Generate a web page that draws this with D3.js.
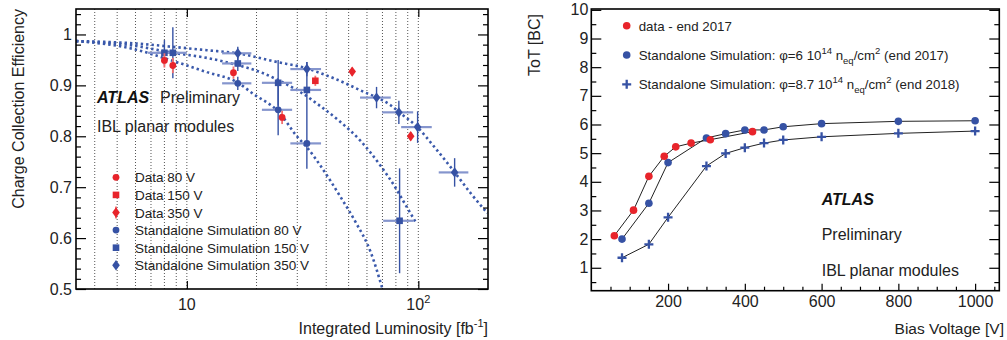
<!DOCTYPE html>
<html>
<head>
<meta charset="utf-8">
<script src="https://cdn.jsdelivr.net/npm/d3@7"></script>
<style>
  body { margin: 0; background: #fff; }
  svg { font-family: "Liberation Sans", Arial, Helvetica, sans-serif; }
</style>
</head>
<body>
<svg id="chart" width="1007" height="340"></svg>
<script>
// ---- left panel data: charge collection efficiency vs integrated luminosity ----
const lumiMajor = [10, 100];
const lumiGrid = [4, 5, 6, 7, 8, 9, 10, 20, 30, 40, 50, 60, 70, 80, 90, 100];
const cceMajor = [0.5, 0.6, 0.7, 0.8, 0.9, 1];

// [lumi, cce, cceErr]
const data80 = [[8.0, 0.949, 0.014], [8.7, 0.939, 0.015], [15.9, 0.925, 0.012], [25.8, 0.837, 0.013]];
const data150 = [[35.9, 0.909, 0.010]];
const data350 = [[51.8, 0.927, 0.008], [92.7, 0.800, 0.008]];

// [lumi, cce, lumiErr, cceErr]
const sim80 = [[16.6, 0.904, 2.4, 0.013], [24.8, 0.852, 3.7, 0.050], [33.0, 0.786, 5.0, 0.050]];
const sim150 = [[8.0, 0.964, 1.2, 0.025], [8.7, 0.964, 1.3, 0.050], [16.6, 0.943, 2.4, 0.015],
                [24.8, 0.905, 3.7, 0.045], [33.0, 0.891, 5.0, 0.055], [83, 0.634, 12.5, 0.103]];
const sim350 = [[16.6, 0.963, 2.4, 0.013], [33.0, 0.932, 5.0, 0.014], [66, 0.876, 10, 0.021],
                [82.4, 0.847, 12.6, 0.023], [99.3, 0.818, 15, 0.031], [143.5, 0.729, 21, 0.028]];

// model curves
const curve80Lumi = [3.32, 5.68, 8.99, 12.2, 16.5, 19.4, 24.9, 30.0, 33.2, 37.8, 46.1, 53.5, 62.2, 70.0];
const curve80Cce = [0.987, 0.973, 0.946, 0.926, 0.906, 0.883, 0.848, 0.799, 0.777, 0.742, 0.681, 0.632, 0.573, 0.500];
const curve150Lumi = [3.32, 5.68, 8.99, 12.2, 16.5, 20.8, 25.4, 30.9, 37.8, 46.1, 56.3, 68.7, 79.7, 88.1, 97.3];
const curve150Cce = [0.987, 0.979, 0.963, 0.954, 0.940, 0.926, 0.908, 0.887, 0.859, 0.828, 0.791, 0.742, 0.699, 0.665, 0.632];
const curve350Lumi = [3.32, 5.68, 8.99, 12.2, 16.5, 24.5, 33.1, 37.8, 43.1, 50.1, 58.2, 66.4, 75.9, 83.8, 99.0, 116.8, 142.6, 168.4, 198.9];
const curve350Cce = [0.987, 0.983, 0.975, 0.969, 0.963, 0.946, 0.933, 0.924, 0.914, 0.901, 0.887, 0.876, 0.861, 0.845, 0.818, 0.780, 0.731, 0.688, 0.649];

const legendLeft = ['Data 80 V', 'Data 150 V', 'Data 350 V',
  'Standalone Simulation 80 V', 'Standalone Simulation 150 V', 'Standalone Simulation 350 V'];

// ---- right panel data: ToT vs bias voltage ----
const voltTicks = [200, 400, 600, 800, 1000];
const totTicks = [1, 2, 3, 4, 5, 6, 7, 8, 9, 10];
const voltData = [60, 110, 150, 190, 220, 260, 310, 420];
const totData = [2.12, 3.01, 4.19, 4.89, 5.22, 5.35, 5.47, 5.75];
const voltSim17 = [80, 150, 200, 300, 350, 400, 450, 500, 600, 800, 1000];
const totSim17 = [2.00, 3.25, 4.67, 5.53, 5.68, 5.81, 5.81, 5.92, 6.03, 6.11, 6.13];
const voltSim18 = [80, 150, 200, 300, 350, 400, 450, 500, 600, 800, 1000];
const totSim18 = [1.35, 1.82, 2.76, 4.55, 4.99, 5.19, 5.35, 5.46, 5.57, 5.69, 5.77];

const RED = '#e8242b';
const RED_ERR = '#f07070';
const BLUE = '#3652a4';
const BLUE_LIGHT = '#8595cd';
const BLUE_CURVE = '#3a59ab';

const svg = d3.select('#chart');

const diamond = 'M0,-5.2L3.8,0L0,5.2L-3.8,0Z';

function drawMarker(sel, shape, color) {
  if (shape === 'circle') {
    sel.append('circle').attr('r', 3.4).attr('fill', color);
  } else if (shape === 'square') {
    sel.append('rect').attr('x', -3.3).attr('y', -3.3).attr('width', 6.6).attr('height', 6.6).attr('fill', color);
  } else if (shape === 'diamond') {
    sel.append('path').attr('d', diamond).attr('fill', color);
  } else if (shape === 'cross') {
    sel.append('path').attr('d', 'M-4.5,0H4.5M0,-4.5V4.5').attr('stroke', color).attr('stroke-width', 2.3);
  }
}

// =================== LEFT PANEL ===================
const L = {left: 76, right: 488, top: 9, bottom: 289};
const x1 = d3.scaleLog().domain([3.32, 200]).range([L.left, L.right]);
const y1 = d3.scaleLinear().domain([0.5, 1.05]).range([L.bottom, L.top]);
const g1 = svg.append('g');

g1.append('clipPath').attr('id', 'clip1').append('rect')
  .attr('x', L.left).attr('y', L.top).attr('width', L.right - L.left).attr('height', L.bottom - L.top);

// dotted grid
g1.selectAll('line.grid')
  .data(lumiGrid)
  .enter()
  .append('line')
  .attr('x1', d => x1(d)).attr('x2', d => x1(d))
  .attr('y1', L.top).attr('y2', L.bottom)
  .attr('stroke', '#555').attr('stroke-width', 1).attr('stroke-dasharray', '1,2');

// model curves
const line1 = d3.line().x(d => x1(d[0])).y(d => y1(d[1])).curve(d3.curveMonotoneX);
[[curve80Lumi, curve80Cce], [curve150Lumi, curve150Cce], [curve350Lumi, curve350Cce]].forEach(([ls, cs]) => {
  g1.append('path')
    .datum(d3.zip(ls, cs))
    .attr('d', line1)
    .attr('clip-path', 'url(#clip1)')
    .attr('fill', 'none')
    .attr('stroke', BLUE_CURVE)
    .attr('stroke-width', 2.6)
    .attr('stroke-dasharray', '2.4,3');
});

// simulation points with errors
[[sim80, 'circle'], [sim150, 'square'], [sim350, 'diamond']].forEach(([pts, shape]) => {
  g1.selectAll(null).data(pts).enter().append('line')
    .attr('x1', d => x1(d[0] - d[2])).attr('x2', d => x1(d[0] + d[2]))
    .attr('y1', d => y1(d[1])).attr('y2', d => y1(d[1]))
    .attr('stroke', BLUE_LIGHT).attr('stroke-width', 2.2);
  g1.selectAll(null).data(pts).enter().append('line')
    .attr('x1', d => x1(d[0])).attr('x2', d => x1(d[0]))
    .attr('y1', d => y1(d[1] - d[3])).attr('y2', d => y1(d[1] + d[3]))
    .attr('stroke', BLUE).attr('stroke-width', 1.4);
});
[[sim80, 'circle'], [sim150, 'square'], [sim350, 'diamond']].forEach(([pts, shape]) => {
  g1.selectAll(null).data(pts).enter().append('g')
    .attr('transform', d => `translate(${x1(d[0])},${y1(d[1])})`)
    .each(function () { drawMarker(d3.select(this), shape, BLUE); });
});

// data points
[[data80, 'circle'], [data150, 'square'], [data350, 'diamond']].forEach(([pts, shape]) => {
  g1.selectAll(null).data(pts).enter().append('line')
    .attr('x1', d => x1(d[0])).attr('x2', d => x1(d[0]))
    .attr('y1', d => y1(d[1] - d[2])).attr('y2', d => y1(d[1] + d[2]))
    .attr('stroke', RED_ERR).attr('stroke-width', 1.8);
  g1.selectAll(null).data(pts).enter().append('g')
    .attr('transform', d => `translate(${x1(d[0])},${y1(d[1])})`)
    .each(function () { drawMarker(d3.select(this), shape, RED); });
});

// axes (ticks pointing inward, ROOT style)
function styleAxis(a) {
  a.select('.domain').remove();
  a.selectAll('line').attr('stroke', '#000').attr('stroke-width', 1.2);
  a.selectAll('text').attr('fill', '#222').style('font-size', '16px')
    .style('font-family', '"Liberation Sans", Arial, sans-serif');
}
const cceMinor = d3.range(25, 53).map(i => +(i * 0.02).toFixed(2)).filter(v => !cceMajor.includes(v));

g1.append('g').attr('transform', `translate(${L.left},0)`)
  .call(d3.axisLeft(y1).tickValues(cceMajor).tickSize(-10).tickPadding(4)
    .tickFormat(d => d === 1 ? '1' : d3.format('.1f')(d)))
  .call(styleAxis);
g1.append('g').attr('transform', `translate(${L.left},0)`)
  .call(d3.axisLeft(y1).tickValues(cceMinor).tickSize(-5).tickFormat(''))
  .call(styleAxis);
g1.append('g').attr('transform', `translate(${L.right},0)`)
  .call(d3.axisRight(y1).tickValues(cceMajor).tickSize(-10).tickFormat(''))
  .call(styleAxis);
g1.append('g').attr('transform', `translate(${L.right},0)`)
  .call(d3.axisRight(y1).tickValues(cceMinor).tickSize(-5).tickFormat(''))
  .call(styleAxis);
g1.append('g').attr('transform', `translate(0,${L.bottom})`)
  .call(d3.axisBottom(x1).tickValues(lumiMajor).tickSize(-8).tickFormat(''))
  .call(styleAxis);
g1.append('g').attr('transform', `translate(0,${L.top})`)
  .call(d3.axisTop(x1).tickValues(lumiMajor).tickSize(-8).tickFormat(''))
  .call(styleAxis);

// log tick labels 10, 10^2
const xl = g1.selectAll('text.xlab').data(lumiMajor).enter().append('text')
  .attr('x', d => x1(d)).attr('y', 310)
  .attr('text-anchor', 'middle').style('font-size', '16px').attr('fill', '#222');
xl.append('tspan').text('10');
xl.filter(d => d === 100).append('tspan').text('2').attr('dy', -7).style('font-size', '11px');

g1.append('rect').attr('x', L.left).attr('y', L.top)
  .attr('width', L.right - L.left).attr('height', L.bottom - L.top)
  .attr('fill', 'none').attr('stroke', '#000').attr('stroke-width', 1.6);

// titles
g1.append('text').attr('transform', `translate(24,${L.top}) rotate(-90)`)
  .attr('text-anchor', 'end').style('font-size', '16px').attr('fill', '#222')
  .text('Charge Collection Efficiency');
const xt = g1.append('text').attr('x', L.right).attr('y', 334)
  .attr('text-anchor', 'end').style('font-size', '16px').attr('fill', '#222');
xt.append('tspan').text('Integrated Luminosity [fb');
xt.append('tspan').text('-1').attr('dy', -7).style('font-size', '11px');
xt.append('tspan').text(']').attr('dy', 7);

g1.append('text').attr('x', 97).attr('y', 103).style('font-size', '16px')
  .style('font-weight', 'bold').style('font-style', 'italic').attr('fill', '#111').text('ATLAS');
g1.append('text').attr('x', 160).attr('y', 103).style('font-size', '16px').attr('fill', '#222').text('Preliminary');
g1.append('text').attr('x', 97).attr('y', 132).style('font-size', '16px').attr('fill', '#222').text('IBL planar modules');

// legend
const legShapes = ['circle', 'square', 'diamond', 'circle', 'square', 'diamond'];
const leg1 = g1.selectAll('g.leg').data(legendLeft).enter().append('g')
  .attr('transform', (d, i) => `translate(116,${177.3 + i * 17.6})`);
leg1.each(function (d, i) {
  const s = d3.select(this);
  if (i === 2) {
    s.append('line').attr('y1', -6).attr('y2', 6).attr('stroke', RED_ERR).attr('stroke-width', 1.8);
  }
  drawMarker(s, legShapes[i], i < 3 ? RED : BLUE);
});
leg1.append('text').attr('x', 19).attr('y', 5).style('font-size', '13.5px').attr('fill', '#222').text(d => d);

// =================== RIGHT PANEL ===================
const R = {left: 591.3, right: 999.3, top: 9, bottom: 290.7};
const x2 = d3.scaleLinear().domain([0, 1063]).range([R.left, R.right]);
const y2 = d3.scaleLinear().domain([0.2, 10.03]).range([R.bottom, R.top]);
const g2 = svg.append('g');

const line2 = d3.line().x(d => x2(d[0])).y(d => y2(d[1]));
const series2 = [
  [voltSim18, totSim18, 'cross', BLUE],
  [voltSim17, totSim17, 'circle', BLUE],
  [voltData, totData, 'circle', RED]
];
series2.forEach(([vs, ts]) => {
  g2.append('path').datum(d3.zip(vs, ts)).attr('d', line2)
    .attr('fill', 'none').attr('stroke', '#222').attr('stroke-width', 1);
});
series2.forEach(([vs, ts, shape, color]) => {
  g2.selectAll(null).data(d3.zip(vs, ts)).enter().append('g')
    .attr('transform', d => `translate(${x2(d[0])},${y2(d[1])})`)
    .each(function () {
      const s = d3.select(this);
      if (shape === 'circle') s.append('circle').attr('r', 3.8).attr('fill', color);
      else drawMarker(s, shape, color);
    });
});

const totMinor = d3.range(1, 20).map(i => i * 0.5).filter(v => v % 1 !== 0);
const voltMinor = d3.range(1, 22).map(i => i * 50).filter(v => v % 200 !== 0);

g2.append('g').attr('transform', `translate(${R.left},0)`)
  .call(d3.axisLeft(y2).tickValues(totTicks).tickSize(-10).tickPadding(3).tickFormat(d3.format('d')))
  .call(styleAxis);
g2.append('g').attr('transform', `translate(${R.left},0)`)
  .call(d3.axisLeft(y2).tickValues(totMinor).tickSize(-5).tickFormat(''))
  .call(styleAxis);
g2.append('g').attr('transform', `translate(${R.right},0)`)
  .call(d3.axisRight(y2).tickValues(totTicks).tickSize(-10).tickFormat(''))
  .call(styleAxis);
g2.append('g').attr('transform', `translate(${R.right},0)`)
  .call(d3.axisRight(y2).tickValues(totMinor).tickSize(-5).tickFormat(''))
  .call(styleAxis);
g2.append('g').attr('transform', `translate(0,${R.bottom})`)
  .call(d3.axisBottom(x2).tickValues(voltTicks).tickSize(-7).tickPadding(5).tickFormat(d3.format('d')))
  .call(styleAxis);
g2.append('g').attr('transform', `translate(0,${R.bottom})`)
  .call(d3.axisBottom(x2).tickValues(voltMinor).tickSize(-4).tickFormat(''))
  .call(styleAxis);

g2.append('rect').attr('x', R.left).attr('y', R.top)
  .attr('width', R.right - R.left).attr('height', R.bottom - R.top)
  .attr('fill', 'none').attr('stroke', '#000').attr('stroke-width', 1.6);

g2.append('text').attr('transform', `translate(540,14) rotate(-90)`)
  .attr('text-anchor', 'end').style('font-size', '16px').attr('fill', '#222').text('ToT [BC]');
g2.append('text').attr('x', 1004).attr('y', 334).attr('text-anchor', 'end')
  .style('font-size', '15.5px').attr('fill', '#222').text('Bias Voltage [V]');

g2.append('text').attr('x', 821.7).attr('y', 205).style('font-size', '16px')
  .style('font-weight', 'bold').style('font-style', 'italic').attr('fill', '#111').text('ATLAS');
g2.append('text').attr('x', 821.7).attr('y', 240).style('font-size', '16px').attr('fill', '#222').text('Preliminary');
g2.append('text').attr('x', 821.7).attr('y', 275.7).style('font-size', '16px').attr('fill', '#222').text('IBL planar modules');

// legend with super/subscripts
const legRows = [
  {shape: 'circle', color: RED, parts: [['data - end 2017', 0]]},
  {shape: 'circle', color: BLUE, parts: [['Standalone Simulation: \u03c6=6 10', 0], ['14', 1], [' n', 0], ['eq', -1], ['/cm', 0], ['2', 1], [' (end 2017)', 0]]},
  {shape: 'cross', color: BLUE, parts: [['Standalone Simulation: \u03c6=8.7 10', 0], ['14', 1], [' n', 0], ['eq', -1], ['/cm', 0], ['2', 1], [' (end 2018)', 0]]}
];
const leg2 = g2.selectAll('g.leg2').data(legRows).enter().append('g')
  .attr('transform', (d, i) => `translate(626.7,${25.7 + i * 29.3})`);
leg2.each(function (d) {
  const s = d3.select(this);
  if (d.shape === 'circle') s.append('circle').attr('r', 3.8).attr('fill', d.color);
  else drawMarker(s, d.shape, d.color);
  const t = s.append('text').attr('x', 12).attr('y', 5).style('font-size', '13.3px').attr('fill', '#222');
  let prev = 0;
  d.parts.forEach(([txt, lvl]) => {
    const shift = { '1': -6, '-1': 4, '0': 0 }[lvl];
    t.append('tspan').text(txt)
      .attr('dy', shift - prev)
      .style('font-size', lvl === 0 ? '13.3px' : '9.5px');
    prev = shift;
  });
});
</script>
</body>
</html>
